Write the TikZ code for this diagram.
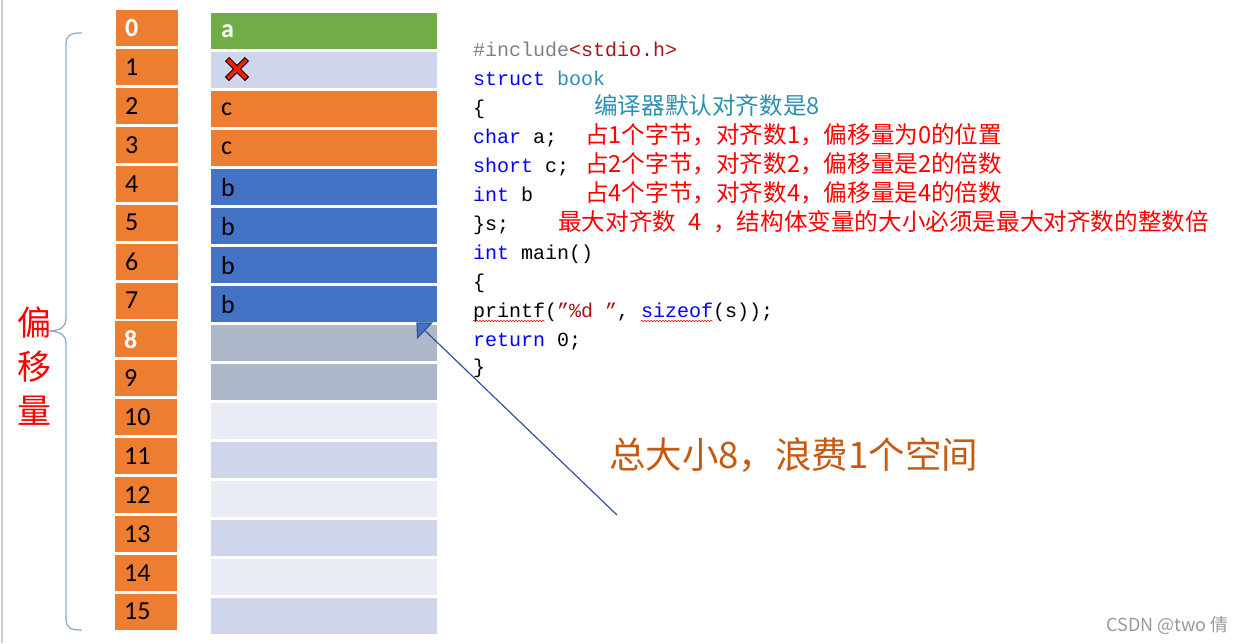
\documentclass[tikz,border=0pt]{standalone}
\usepackage{fontspec}
\setmainfont{Carlito}
\setmonofont{Liberation Mono}
\newfontfamily\cjk{Noto Sans CJK SC}
\usetikzlibrary{arrows.meta,decorations.pathmorphing}
\definecolor{borange}{HTML}{ED7D31}
\definecolor{bgreen}{HTML}{70AD47}
\definecolor{bblue}{HTML}{4472C4}
\definecolor{bgray}{HTML}{ADB9CA}
\definecolor{blight}{HTML}{E9EBF5}
\definecolor{bpale}{HTML}{CFD5EA}
\definecolor{bbrace}{HTML}{8EA9DB}
\definecolor{bline}{HTML}{2F5597}
\definecolor{ckey}{HTML}{0000FF}
\definecolor{cstr}{HTML}{A31515}
\definecolor{cgray}{HTML}{808080}
\definecolor{cteal}{HTML}{2B91AF}
\definecolor{cred}{HTML}{FF0000}
\definecolor{cbrown}{HTML}{C55A11}

\begin{document}
\begin{tikzpicture}[x=1pt,y=-1pt,
  idx/.style={anchor=north west, fill=borange, minimum height=36pt, text width=44pt,
    inner xsep=9pt, inner ysep=0pt, align=left, font=\fontsize{26}{26}\selectfont},
  mem/.style={anchor=north west, minimum height=36pt, text width=206pt,
    inner xsep=10pt, inner ysep=0pt, align=left, font=\fontsize{26}{26}\selectfont},
  plain/.style={},
  hilite/.style={text=white, font=\fontsize{26}{26}\selectfont\bfseries},
  code/.style={anchor=base west, inner sep=0pt, font=\ttfamily\fontsize{20}{20}\selectfont},
  note/.style={anchor=base west, inner sep=0pt, text=cred, font=\cjk\fontsize{23.6}{23.6}\selectfont},
  wavy/.style={cred, line width=0.5pt, decorate, decoration={snake, amplitude=0.8pt, segment length=3pt}},
  pointer/.style={bline, line width=1.2pt, -{Triangle[length=12pt, width=23pt, fill=bblue]}}]
 \useasboundingbox (0,0) rectangle (1243,643);
 \draw[black!20, line width=1.5pt] (2,0) -- (2,643);
 % offsets
 \foreach \i/\s in {0/hilite,1/plain,2/plain,3/plain,4/plain,5/plain,6/plain,7/plain,
   8/hilite,9/plain,10/plain,11/plain,12/plain,13/plain,14/plain,15/plain} {
  \pgfmathsetmacro\yy{10+38.9*\i}
  \ifnum\i<8 \def\xx{116}\else\def\xx{115}\fi
  \node[idx, \s] (n\i) at (\xx,\yy) {\i};
 }
 % memory cells
 \foreach \i/\f/\t/\s in {0/bgreen/a/hilite, 1/bpale/{}/plain, 2/borange/c/plain, 3/borange/c/plain,
   4/bblue/b/plain, 5/bblue/b/plain, 6/bblue/b/plain, 7/bblue/b/plain,
   8/bgray/{}/plain, 9/bgray/{}/plain, 10/blight/{}/plain, 11/bpale/{}/plain,
   12/blight/{}/plain, 13/bpale/{}/plain, 14/blight/{}/plain, 15/bpale/{}/plain} {
  \pgfmathsetmacro\yy{13+39*\i}
  \node[mem, fill=\f, \s] (m\i) at (211,\yy) {\t};
 }
 % wasted byte
 \draw[black, line width=6pt] (227,59) -- (247,79) (227,79) -- (247,59);
 \draw[red!80!orange, line width=3.6pt] (227.8,59.8) -- (246.2,78.2) (227.8,78.2) -- (246.2,59.8);
 % brace and label
 \draw[bbrace, line width=1.3pt] (82,33) .. controls (70,33) and (66,35) .. (66,45) -- (66,318)
   .. controls (66,328) and (60,330) .. (50,331) .. controls (60,332) and (66,334) .. (66,344)
   -- (66,618) .. controls (66,628) and (70,630) .. (82,630);
 \node[text=cred, align=center, font=\cjk\fontsize{34}{44}\selectfont] (offs) at (34,366) {偏\\移\\量};
 % code
 \node[code] (l1) at (473,56) {\textcolor{cgray}{\#include}\textcolor{cstr}{<stdio.h>}};
 \node[code, text=ckey] (l2) at (473,85) {struct \textcolor{cteal}{book}};
 \node[code] (l3) at (473,114) {\{};
 \node[note, text=cteal] (c3) at (594,114) {编译器默认对齐数是8};
 \node[code] (l4) at (473,143) {\textcolor{ckey}{char} a;};
 \node[note] (c4) at (585,143) {占1个字节，对齐数1，偏移量为0的位置};
 \node[code] (l5) at (473,172) {\textcolor{ckey}{short} c;};
 \node[note] (c5) at (585,172) {占2个字节，对齐数2，偏移量是2的倍数};
 \node[code] (l6) at (473,201) {\textcolor{ckey}{int} b};
 \node[note] (c6) at (585,201) {占4个字节，对齐数4，偏移量是4的倍数};
 \node[code] (l7) at (473,230) {\}s;};
 \node[note] (c7) at (558,230) {最大对齐数\hspace{12pt}4\hspace{12pt}，结构体变量的大小必须是最大对齐数的整数倍};
 \node[code] (l8) at (473,259) {\textcolor{ckey}{int} main()};
 \node[code] (l9) at (473,288) {\{};
 \node[code] (l10) at (473,317) {printf(\textcolor{cstr}{”\%d ”}, \textcolor{ckey}{sizeof}(s));};
 \draw[wavy] ([yshift=-4pt]l10.base west) -- ++(72,0);
 \draw[wavy] ([xshift=168pt,yshift=-4pt]l10.base west) -- ++(72,0);
 \node[code] (l11) at (473,346) {\textcolor{ckey}{return} 0;};
 \node[code] (l12) at (473,373) {\}};
 % note on the total size
 \node[anchor=west, inner sep=0pt, text=cbrown, font=\cjk\fontsize{36.5}{36.5}\selectfont] (total) at (609,455) {总大小8，浪费1个空间};
 \coordinate (tail) at (617,515);
 \draw[pointer] (tail) -- ([xshift=-21pt]m7.south east);
 \node[anchor=east, inner sep=0pt, text=black!40, font=\cjk\fontsize{18}{18}\selectfont] (mark) at (1229,625) {CSDN @two 倩};
\end{tikzpicture}
\end{document}
